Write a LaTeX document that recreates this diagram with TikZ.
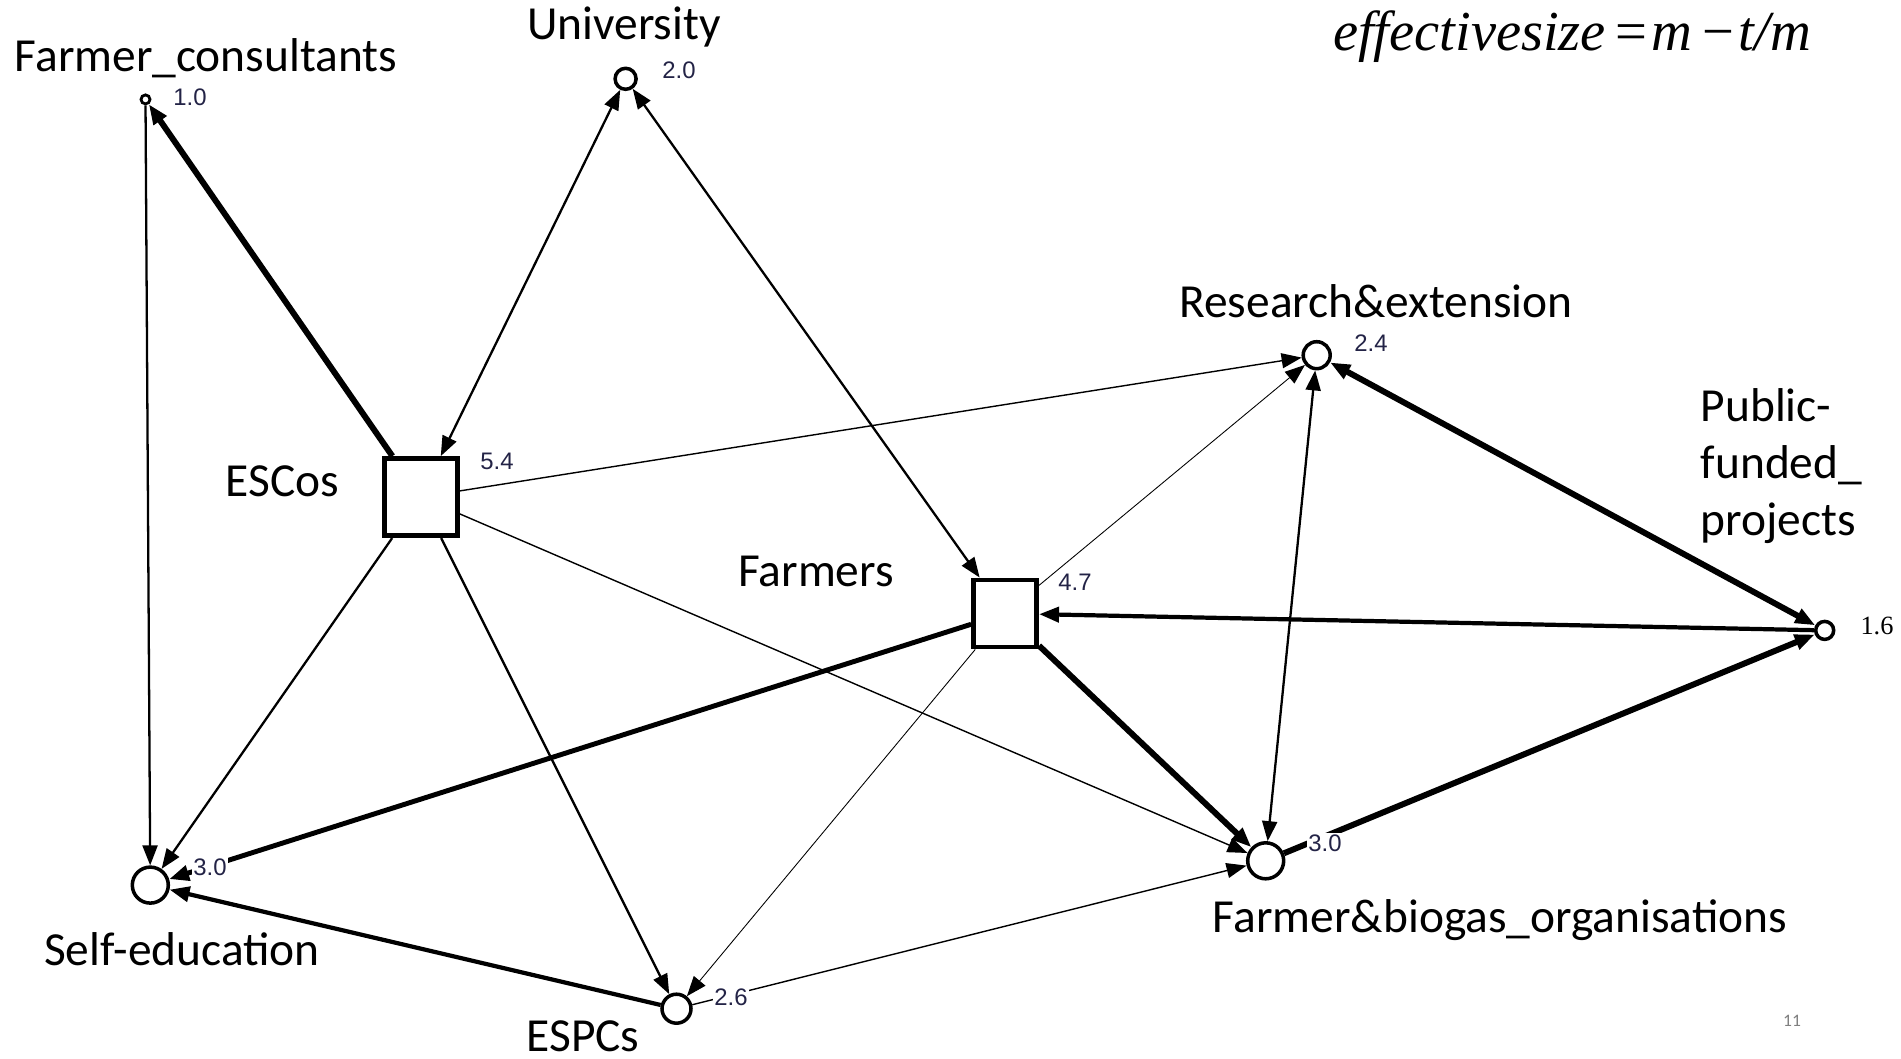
\documentclass[tikz,border=0pt]{standalone}
\usepackage{fontspec}
\setmainfont{Carlito}
\newfontfamily\valfont{Liberation Sans}
\newfontfamily\eqfont{Liberation Serif}
\usetikzlibrary{arrows.meta}
\definecolor{valblue}{RGB}{35,35,70}
\tikzset{
  >={Triangle[length=2mm,width=1.5mm]},
  actor/.style={circle,draw,line width=1pt,fill=white,inner sep=0pt,minimum size=#1},
  hub/.style={rectangle,draw,line width=1.4pt,fill=white,inner sep=0pt},
  actorlabel/.style={font=\fontsize{13.5}{16.3}\selectfont,inner sep=0pt},
  val/.style={font=\valfont\fontsize{6.8}{8}\selectfont,text=valblue,fill=white,inner sep=0.4pt},
  linkfaint/.style={line width=0.25pt},
  linkthin/.style={line width=0.4pt},
  linkmid/.style={line width=0.65pt},
  linkbold/.style={line width=1.2pt},
  linkheavy/.style={line width=1.7pt}
}
\begin{document}
\begin{tikzpicture}[]
\useasboundingbox (0,0) rectangle (19.01,10.58);
\node[actor=0.09cm,line width=0.8pt] (fc) at (1.455,9.586) {};
\node[actor=0.21cm] (univ) at (6.256,9.792) {};
\node[hub,minimum width=0.73cm,minimum height=0.77cm] (escos) at (4.207,5.609) {};
\node[hub,minimum width=0.63cm,minimum height=0.67cm] (farmers) at (10.051,4.445) {};
\node[actor=0.27cm] (re) at (13.167,7.028) {};
\node[actor=0.18cm] (pfp) at (18.247,4.276) {};
\node[actor=0.36cm] (self) at (1.503,1.729) {};
\node[actor=0.29cm] (espcs) at (6.765,0.493) {};
\node[actor=0.36cm] (fbo) at (12.657,1.972) {};
\node[actorlabel] (lblfc) at (2.06,10.00) {Farmer\_consultants};
\node[actorlabel] (lbluniv) at (6.24,10.31) {University};
\node[actorlabel] (lblescos) at (2.825,5.77) {ESCos};
\node[actorlabel] (lblfarmers) at (8.16,4.87) {Farmers};
\node[actorlabel] (lblre) at (13.76,7.57) {Research\&extension};
\node[actorlabel,align=left,anchor=west] (lblpfp) at (17.00,5.92) {Public-\\funded\_\\projects};
\node[actorlabel] (lblself) at (1.82,1.09) {Self-education};
\node[actorlabel,anchor=base] (lblespcs) at (5.83,0.07) {ESPCs};
\node[actorlabel] (lblfbo) at (15.00,1.38) {Farmer\&biogas\_organisations};
\draw[linkheavy,->] (escos) -- (fc);
\draw[linkmid,->] (fc) -- (self);
\draw[linkmid,<->] (escos) -- (univ);
\draw[linkmid,<->] (univ) -- (farmers);
\draw[linkthin,->] (escos) -- (re);
\draw[linkthin,->] (escos) -- (fbo);
\draw[linkmid,->] (escos) -- (self);
\draw[linkmid,->] (escos) -- (espcs);
\draw[linkfaint,->] (farmers) -- (re);
\draw[linkmid,<->] (re) -- (fbo);
\draw[linkheavy,<->] (re) -- (pfp);
\draw[linkbold,->] (pfp) -- (farmers);
\draw[linkheavy,->] (fbo) -- (pfp);
\draw[linkheavy,->] (farmers) -- (fbo);
\draw[linkheavy,line width=1.4pt,->] (farmers) -- (self);
\draw[linkfaint,->] (farmers) -- (espcs);
\draw[linkbold,->] (espcs) -- (self);
\draw[linkthin,->] (espcs) -- (fbo);
\node[val] (vfc) at (1.90,9.61) {1.0};
\node[val] (vuniv) at (6.79,9.88) {2.0};
\node[val] (vescos) at (4.97,5.97) {5.4};
\node[val] (vfarmers) at (10.75,4.76) {4.7};
\node[val] (vre) at (13.71,7.15) {2.4};
\node[val,font=\eqfont\fontsize{7.5}{9}\selectfont,text=black] (vpfp) at (18.77,4.32) {1.6};
\node[val] (vself) at (2.10,1.91) {3.0};
\node[val] (vespcs) at (7.31,0.61) {2.6};
\node[val] (vfbo) at (13.25,2.15) {3.0};
\node[anchor=base,inner sep=0pt] (formula) at (15.72,10.08) {\resizebox{4.78cm}{!}{\eqfont\fontsize{18}{20}\selectfont\itshape effectivesize{\upshape\kern3pt=\kern1.5pt}m{\upshape\kern3pt−\kern1.5pt}t/m}};
\node[font=\fontsize{5}{6}\selectfont,text=gray] (pageno) at (17.92,0.37) {11};
\end{tikzpicture}
\end{document}
